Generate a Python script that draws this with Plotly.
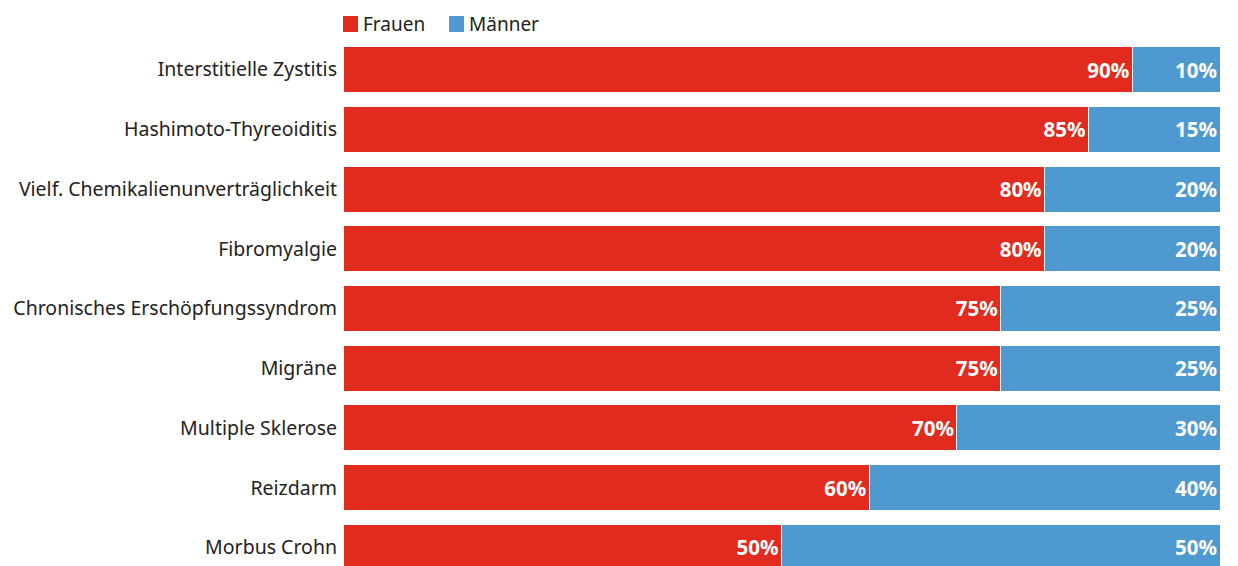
import plotly.graph_objects as go

categories = [
    "Interstitielle Zystitis",
    "Hashimoto-Thyreoiditis",
    "Vielf. Chemikalienunverträglichkeit",
    "Fibromyalgie",
    "Chronisches Erschöpfungssyndrom",
    "Migräne",
    "Multiple Sklerose",
    "Reizdarm",
    "Morbus Crohn",
]
frauen = [90, 85, 80, 80, 75, 75, 70, 60, 50]
maenner = [10, 15, 20, 20, 25, 25, 30, 40, 50]
series_names = ["Frauen", "Männer"]

RED = "#e02b1e"
BLUE = "#4e99d0"
FONT = "Noto Sans"
TXT = "#222222"

W, H = 1230, 558
L, R, T, B = 335, 18, 32, 0
PW, PH = W - L - R, H - T - B

fig = go.Figure()
for name, vals, col in [(series_names[0], frauen, RED), (series_names[1], maenner, BLUE)]:
    fig.add_trace(go.Bar(
        name=name, y=categories, x=vals, orientation="h",
        marker=dict(color=col, line=dict(color="white", width=1)),
        text=[f"{v}%" for v in vals], textposition="inside",
        insidetextanchor="end",
        textfont=dict(family=FONT, size=20.5, color="white", weight="bold"),
        hoverinfo="skip", showlegend=False,
    ))

# custom legend (squares + labels) placed above the plot area
legend_items = [(series_names[0], RED, 0), (series_names[1], BLUE, 106)]
for name, col, off in legend_items:
    fig.add_shape(type="rect", xref="paper", yref="paper",
                  x0=off / PW, x1=(off + 15) / PW,
                  y0=1 + (T - 24) / PH, y1=1 + (T - 8) / PH,
                  fillcolor=col, line=dict(width=0))
    fig.add_annotation(text=name, xref="paper", yref="paper",
                       x=(off + 18) / PW, y=1 + (T - 16) / PH,
                       xanchor="left", yanchor="middle", showarrow=False,
                       font=dict(family=FONT, size=19, color=TXT))

fig.update_layout(
    width=W, height=H,
    barmode="stack", bargap=0.23,
    margin=dict(l=L, r=R, t=T, b=B, pad=0),
    plot_bgcolor="white", paper_bgcolor="white",
    font=dict(family=FONT, size=19, color=TXT),
    uniformtext=dict(mode="show", minsize=10),
)
fig.update_xaxes(range=[0, 100], visible=False, fixedrange=True)
fig.update_yaxes(categoryorder="array", categoryarray=categories,
                 range=[8.31, -0.494], showgrid=False, showline=False,
                 zeroline=False, ticks="", ticklabelstandoff=5,
                 tickfont=dict(size=19.5, color=TXT))

fig.write_html("out.html")
